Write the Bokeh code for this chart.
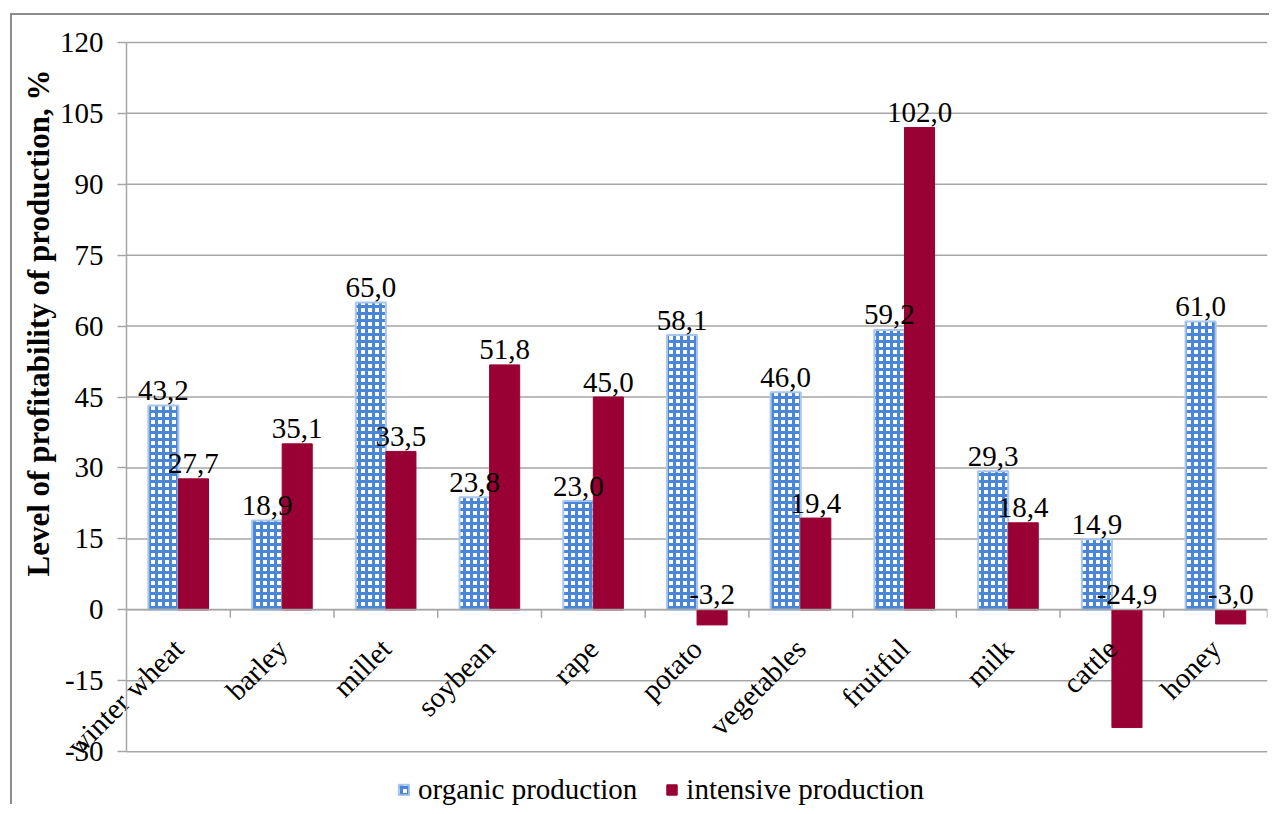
import numpy as np
from bokeh.plotting import figure
from bokeh.models import (ColumnDataSource, Range1d, FixedTicker, Legend, LegendItem, Label)
from bokeh.core.properties import value
from bokeh.embed import file_html
from bokeh.resources import INLINE

# ---- data ----
categories = ["winter wheat", "barley", "millet", "soybean", "rape", "potato",
              "vegetables", "fruitful", "milk", "cattle", "honey"]
organic = [43.2, 18.9, 65.0, 23.8, 23.0, 58.1, 46.0, 59.2, 29.3, 14.9, 61.0]
intensive = [27.7, 35.1, 33.5, 51.8, 45.0, -3.2, 19.4, 102.0, 18.4, -24.9, -3.0]
y_ticks = [-30, -15, 0, 15, 30, 45, 60, 75, 90, 105, 120]
series_names = ["organic production", "intensive production"]
y_title = "Level of profitability of production, %"

FONT = "Liberation Serif"
GRID = "#a6a6a6"
RED = "#990033"
BORDER = "2px solid #8c8c8c"

ORG_STYLE = dict(fill_color="white", hatch_pattern="+", hatch_color="#4a86d8",
                 hatch_scale=7, hatch_weight=3, line_color="#a8c6ee", line_width=2)
INT_STYLE = dict(fill_color=RED, line_color=RED, line_width=1)


def fmt(v):
    return f"{v:.1f}".replace(".", ",")


n = len(categories)
centers = np.arange(n) + 0.5          # category slots [i, i+1]
bw = 0.29                             # bar width (category units)

src = ColumnDataSource(dict(
    x_org=centers - bw / 2,
    x_int=centers + bw / 2,
    org=organic,
    inten=intensive,
    org_lab=[fmt(v) for v in organic],
    int_lab=[fmt(v) for v in intensive],
    org_y=np.maximum(np.array(organic), 0),
    int_y=np.maximum(np.array(intensive), 0),
))

# x range leaves room on the left for the value axis, its labels and title
p = figure(x_range=Range1d(-1.1, n), y_range=Range1d(-41.6, 124),
           width=1259, height=791, output_backend="svg", toolbar_location=None,
           min_border_left=0, min_border_right=4, min_border_top=8,
           min_border_bottom=0)
p.styles = {"margin-left": "10px", "margin-top": "13px",
            "border-left": BORDER, "border-top": BORDER}
p.outline_line_color = None
p.background_fill_color = "white"
p.border_fill_color = "white"
p.grid.grid_line_color = None

# horizontal gridlines across the category area
p.segment(x0=[0] * len(y_ticks), x1=[n] * len(y_ticks), y0=y_ticks, y1=y_ticks,
          line_color=GRID, line_width=1.5)

# value axis on the left edge of the first category
p.yaxis.fixed_location = 0
p.yaxis.bounds = (y_ticks[0], y_ticks[-1])
p.yaxis.ticker = FixedTicker(ticks=y_ticks)
p.yaxis.major_label_overrides = {t: str(t) for t in y_ticks}
p.yaxis.axis_line_color = GRID
p.yaxis.axis_line_width = 1.5
p.yaxis.major_tick_line_color = GRID
p.yaxis.major_tick_line_width = 1.5
p.yaxis.major_tick_out = 9
p.yaxis.major_tick_in = 0
p.yaxis.minor_tick_line_color = None
p.yaxis.major_label_standoff = 14
p.yaxis.major_label_text_font = FONT
p.yaxis.major_label_text_font_size = "29px"
p.yaxis.major_label_text_color = "black"

# category axis on the zero line, rotated labels
p.xaxis.fixed_location = 0
p.xaxis.bounds = (0, n)
p.xaxis.ticker = FixedTicker(ticks=list(centers))
p.xaxis.major_label_overrides = {float(c): name for c, name in zip(centers, categories)}
p.xaxis.major_label_orientation = np.pi / 4
p.xaxis.axis_line_color = GRID
p.xaxis.axis_line_width = 1.5
p.xaxis.major_tick_line_color = None
p.xaxis.major_tick_out = 0
p.xaxis.major_tick_in = 0
p.xaxis.minor_tick_line_color = None
p.xaxis.major_label_standoff = 34
p.xaxis.major_label_text_font = FONT
p.xaxis.major_label_text_font_size = "29px"
p.xaxis.major_label_text_color = "black"

# category boundary tick marks below the zero line
p.segment(x0=np.arange(1, n + 1), x1=np.arange(1, n + 1), y0=[0] * n, y1=[-1.7] * n,
          line_color=GRID, line_width=1.5)

# value-axis title
p.add_layout(Label(x=25.5, y=483.5, x_units="screen", y_units="screen", text=y_title,
                   angle=np.pi / 2, text_align="center", text_baseline="middle",
                   text_font=FONT, text_font_size="31px", text_font_style="bold",
                   text_color="black"))

# bars
r_org = p.vbar(x="x_org", top="org", bottom=0, width=bw, source=src, **ORG_STYLE)
r_int = p.vbar(x="x_int", top="inten", bottom=0, width=bw, source=src, **INT_STYLE)

# value labels
for xcol, ycol, tcol in [("x_org", "org_y", "org_lab"), ("x_int", "int_y", "int_lab")]:
    p.text(x=xcol, y=ycol, text=tcol, source=src,
           text_font=value(FONT), text_font_size="29px", text_align="center",
           text_baseline="alphabetic", y_offset=-15, text_color="black")

legend = Legend(items=[LegendItem(label=series_names[0], renderers=[r_org]),
                       LegendItem(label=series_names[1], renderers=[r_int])],
                orientation="horizontal", location=(385, 0),
                label_text_font=FONT, label_text_font_size="29px",
                label_text_color="black", glyph_width=13, glyph_height=13,
                label_standoff=8, spacing=28, padding=0, margin=0,
                border_line_color=None, background_fill_alpha=0)
p.add_layout(legend, "center")

open("out.html", "w").write(file_html(p, INLINE))
